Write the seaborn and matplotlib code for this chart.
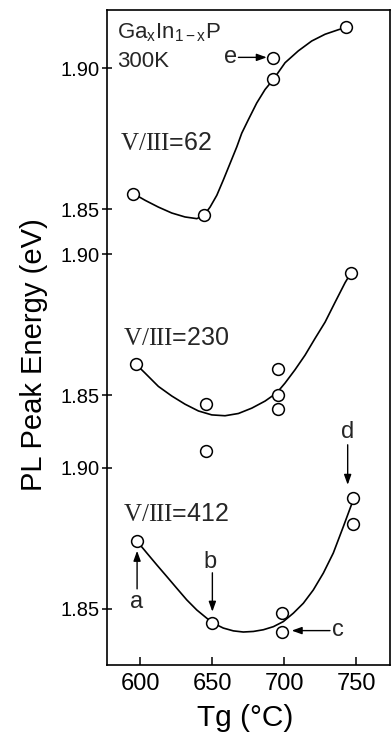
import numpy as np
import pandas as pd
import matplotlib
matplotlib.use("Agg")
import matplotlib.pyplot as plt
import seaborn as sns

# Measured PL peak energies (eV) against growth temperature Tg (°C)
tg_62 = [595.3, 644.4, 692.6, 692.2, 742.8]
pl_62 = [1.8556, 1.8479, 1.8961, 1.9038, 1.9145]
tg_230 = [597, 646, 646, 696, 696, 696, 746.5]
pl_230 = [1.8612, 1.8469, 1.8302, 1.8593, 1.8503, 1.8451, 1.8935]
tg_412 = [597.7, 650.2, 698.4, 698.4, 748.1, 748.1]
pl_412 = [1.8741, 1.8449, 1.8487, 1.8417, 1.8895, 1.8801]

# Hand-drawn guide curves through each series
curve_tg_62 = [595.3, 603.5, 612.7, 622.0, 631.2, 639.4, 644.4, 648.6, 653.3,
               657.8, 662.5, 667.2, 670.6, 675.2, 681.0, 686.8, 692.6, 700.7,
               709.9, 719.2, 728.5, 737.7, 742.8]
curve_pl_62 = [1.8556, 1.8532, 1.8508, 1.8487, 1.8473, 1.8467, 1.8479, 1.8508,
               1.8550, 1.8604, 1.8663, 1.8722, 1.8770, 1.8818, 1.8877, 1.8925,
               1.8961, 1.9020, 1.9062, 1.9097, 1.9121, 1.9137, 1.9145]
curve_tg_230 = [596.5, 603.5, 612.7, 622.0, 631.2, 640.5, 649.8, 659.0, 668.3,
                677.6, 686.8, 694.9, 700.7, 707.6, 714.6, 721.5, 728.5, 735.4,
                742.4, 746.5]
curve_pl_230 = [1.8614, 1.8579, 1.8532, 1.8498, 1.8469, 1.8445, 1.8431, 1.8428,
                1.8436, 1.8455, 1.8480, 1.8509, 1.8544, 1.8591, 1.8643, 1.8702,
                1.8760, 1.8830, 1.8900, 1.8935]
curve_tg_412 = [597.7, 604.7, 611.6, 618.5, 625.5, 632.4, 639.4, 646.3, 650.2,
                657.8, 664.8, 671.7, 678.7, 685.6, 692.6, 699.5, 706.5, 713.4,
                720.3, 727.3, 734.2, 741.2, 748.1]
curve_pl_412 = [1.8741, 1.8698, 1.8656, 1.8615, 1.8573, 1.8532, 1.8496, 1.8467,
                1.8451, 1.8432, 1.8422, 1.8418, 1.8420, 1.8426, 1.8437, 1.8455,
                1.8485, 1.8520, 1.8567, 1.8627, 1.8698, 1.8792, 1.8887]

series_names = ["V/III=62", "V/III=230", "V/III=412"]
x_ticks = [600, 650, 700, 750]
y_tick_values = [1.85, 1.90]
y_tick_labels = ["1.85", "1.90"]

# vertical shift of each stacked panel on the shared axis
offsets = {"V/III=62": 0.1417, "V/III=230": 0.0757, "V/III=412": 0.0}

points = pd.concat([
    pd.DataFrame({"series": n, "Tg": t, "E": e})
    for n, t, e in zip(series_names, [tg_62, tg_230, tg_412], [pl_62, pl_230, pl_412])
], ignore_index=True)
points["u"] = points["E"] + points["series"].map(offsets)

curves = pd.concat([
    pd.DataFrame({"series": n, "Tg": t, "E": e})
    for n, t, e in zip(series_names, [curve_tg_62, curve_tg_230, curve_tg_412],
                       [curve_pl_62, curve_pl_230, curve_pl_412])
], ignore_index=True)
curves["u"] = curves["E"] + curves["series"].map(offsets)

sns.set_theme(style="ticks")
plt.rcParams["font.family"] = ["Liberation Sans", "DejaVu Sans"]
plt.rcParams["mathtext.fontset"] = "custom"
plt.rcParams["mathtext.rm"] = "Liberation Serif"
plt.rcParams["mathtext.sf"] = "Liberation Sans"
plt.rcParams["mathtext.it"] = "Liberation Sans:italic"

W, H = 392, 742
fig = plt.figure(figsize=(W / 100, H / 100), dpi=100)
fig.patch.set_facecolor("white")
L, R, T, B = 107, 390, 10, 665
ax = fig.add_axes([L / W, 1 - B / H, (R - L) / W, (B - T) / H])
ax.set_facecolor("white")

sns.lineplot(data=curves, x="Tg", y="u", units="series", estimator=None,
             sort=False, color="black", linewidth=1.2, ax=ax, legend=False)
sns.scatterplot(data=points, x="Tg", y="u", marker="o", s=72,
                facecolor="white", edgecolor="black", linewidth=1.1,
                ax=ax, legend=False, zorder=3)

ax.set_xlim(577, 773.6)
ax.set_ylim(1.8301, 2.0624)

ax.set_xticks(x_ticks)
ax.set_xticklabels([str(v) for v in x_ticks])
yt, yl = [], []
for n in series_names[::-1]:
    for v, lab in zip(y_tick_values, y_tick_labels):
        yt.append(v + offsets[n])
        yl.append(lab)
ax.set_yticks(yt)
ax.set_yticklabels(yl)

ax.tick_params(axis="x", direction="in", length=6, width=1.1, pad=6,
               labelsize=17, colors="black")
ax.tick_params(axis="y", direction="inout", length=7, width=1.1, pad=2,
               labelsize=14.5, colors="black")
for s in ax.spines.values():
    s.set_color("black")
    s.set_linewidth(1.2)

ax.set_xlabel("Tg (°C)", fontsize=21.5, color="black")
ax.set_ylabel("PL Peak Energy (eV)", fontsize=21, color="black")
ax.xaxis.set_label_coords(0.4876, -0.0595)
ax.yaxis.set_label_coords(-0.2085, 0.474)

# panel captions
ax.text(583.8, 2.0524, r"Ga$_\mathsf{x}$In$_\mathsf{1-x}$P", fontsize=16,
        ha="left", va="baseline")
ax.text(584.0, 2.0423, "300K", fontsize=16, ha="left", va="baseline")
label_pos = {"V/III=62": (586.1, 2.0128), "V/III=230": (588.4, 1.9436),
             "V/III=412": (588.4, 1.8813)}
for n in series_names:
    x0, y0 = label_pos[n]
    ax.text(x0, y0, r"$\mathrm{V/III}$=" + n.split("=")[1], fontsize=18,
            ha="left", va="baseline")

# sample markers a-e with arrows
letters = {
    "a": ((597.7, 1.8526), (597.9, 1.8571), (597.9, 1.8706)),
    "b": ((648.6, 1.8668), (650.2, 1.8628), (650.2, 1.8490)),
    "c": ((737.7, 1.8426), (731.9, 1.8423), (705.3, 1.8423)),
    "d": ((744.4, 1.9129), (744.2, 1.9082), (744.2, 1.8940)),
    "e": ((662.5, 2.0456), (668.3, 2.0456), (688.0, 2.0456)),
}
for k, (tpos, tail, tip) in letters.items():
    ax.text(tpos[0], tpos[1], k, fontsize=17, ha="center", va="center")
    ax.annotate("", xy=tip, xytext=tail,
                arrowprops=dict(arrowstyle="-|>,head_length=0.5,head_width=0.18",
                                color="black", lw=1.0, shrinkA=0, shrinkB=0))

fig.savefig("out.png", dpi=100, facecolor="white")
